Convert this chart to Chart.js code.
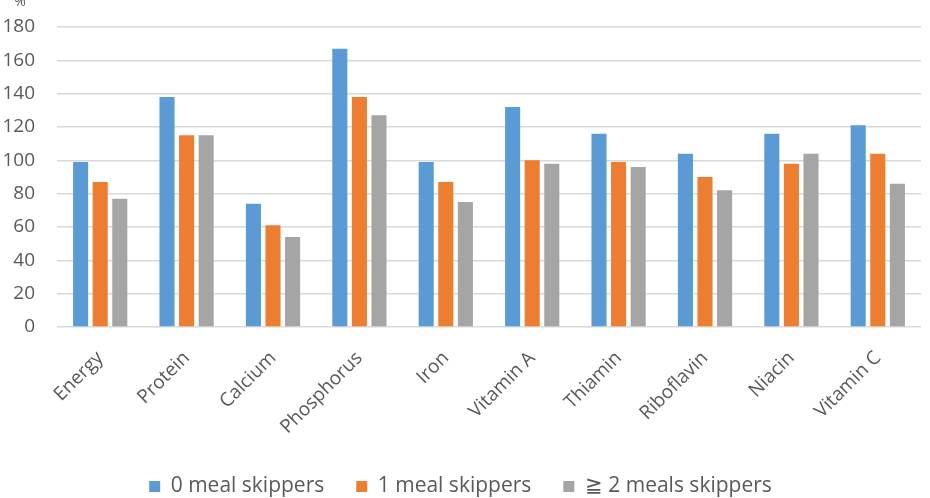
<!DOCTYPE html>
<html>
<head>
<meta charset="utf-8">
<script src="https://cdn.jsdelivr.net/npm/chart.js@4"></script>
<style>
  html, body { margin: 0; padding: 0; background: #fff; }
  #wrap { width: 930px; height: 498px; }
</style>
</head>
<body>
<div id="wrap"><canvas id="chart"></canvas></div>
<script>
const nutrients = ["Energy", "Protein", "Calcium", "Phosphorus", "Iron", "Vitamin A", "Thiamin", "Riboflavin", "Niacin", "Vitamin C"]
const zeroSkip = [99, 138, 74, 167, 99, 132, 116, 104, 116, 121]
const oneSkip = [87, 115, 61, 138, 87, 100, 99, 90, 98, 104]
const twoPlusSkip = [77, 115, 54, 127, 75, 98, 96, 82, 104, 86]
const seriesNames = ["0 meal skippers", "1 meal skippers", "\u2267 2 meals skippers"]

const textColor = "#595959"
const fontFamily = "'Open Sans', 'Liberation Sans', sans-serif"

// little "%" unit above the y axis labels
const percentLabel = {
  id: "percentLabel",
  afterDraw(chart) {
    const ctx = chart.ctx
    ctx.save()
    ctx.fillStyle = textColor
    ctx.font = "14px " + fontFamily
    ctx.textAlign = "center"
    ctx.textBaseline = "bottom"
    ctx.fillText("%", 20, 9)
    ctx.restore()
  }
}

new Chart(document.getElementById("chart"), {
  type: "bar",
  data: {
    labels: nutrients,
    datasets: [
      { label: seriesNames[0], data: zeroSkip, backgroundColor: "#5B9BD5" },
      { label: seriesNames[1], data: oneSkip, backgroundColor: "#ED7D31" },
      { label: seriesNames[2], data: twoPlusSkip, backgroundColor: "#A5A5A5" },
    ],
  },
  options: {
    responsive: true,
    maintainAspectRatio: false,
    animation: false,
    categoryPercentage: 0.68,
    barPercentage: 0.77,
    layout: {
      padding: { top: 27, right: 9, left: 0, bottom: 0 }
    },
    scales: {
      x: {
        grid: { display: false },
        border: { display: false },
        ticks: {
          color: textColor,
          font: { family: fontFamily, size: 19 },
          minRotation: 45,
          maxRotation: 45,
          autoSkip: false,
          padding: 12,
        },
        afterFit(scale) {
          // fixed room for the slanted labels, no extra side padding
          scale.height = 117
          scale.paddingLeft = 0
          scale.paddingRight = 0
        },
      },
      y: {
        min: 0,
        max: 180,
        ticks: {
          stepSize: 20,
          color: textColor,
          font: { family: fontFamily, size: 19 },
          padding: 22,
        },
        grid: {
          color: "#d9d9d9",
          lineWidth: 1.5,
          drawTicks: false,
        },
        border: { display: false },
        afterFit(scale) {
          scale.width = 57
          scale.paddingTop = 0
          scale.paddingBottom = 0
        },
      },
    },
    plugins: {
      legend: {
        position: "bottom",
        maxHeight: 54,
        labels: {
          color: textColor,
          font: { family: fontFamily, size: 21 },
          boxWidth: 11,
          boxHeight: 11,
          padding: 32,
        },
      },
      tooltip: { enabled: false },
    },
  },
  plugins: [percentLabel],
})
</script>
</body>
</html>
